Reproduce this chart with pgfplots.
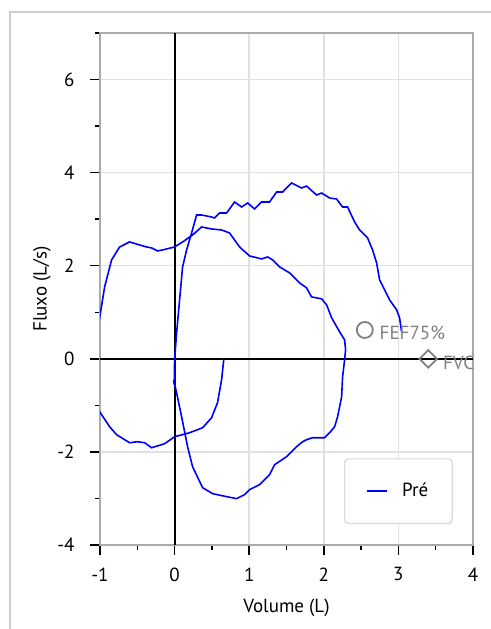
\documentclass[border=0pt]{standalone}
\usepackage{fontspec}
\setmainfont{PT Sans}
\usepackage{pgfplots}
\pgfplotsset{compat=1.18}
\definecolor{gridc}{RGB}{225,225,225}
\definecolor{axc}{RGB}{170,170,170}
\definecolor{framec}{RGB}{205,205,205}
\definecolor{legc}{RGB}{215,215,215}
\definecolor{markc}{RGB}{128,128,128}
\definecolor{lineblue}{RGB}{0,0,255}
\begin{document}
\fontsize{19bp}{22bp}\selectfont
\begin{tikzpicture}
\useasboundingbox (0bp,0bp) rectangle (491bp,629bp);
\draw[framec, line width=1.5bp] (10bp,0bp) -- (10bp,617bp) -- (491bp,617bp);
\begin{axis}[
  at={(100bp,84bp)}, anchor=south west,
  scale only axis, width=373bp, height=512bp,
  xmin=-1, xmax=4, ymin=-4, ymax=7,
  xtick={-1,0,1,2,3,4},
  minor xtick={-0.5,0.5,1.5,2.5,3.5},
  ytick={-4,-2,0,2,4,6},
  minor ytick={-3,-1,1,3,5,7},
  xtick pos=bottom, ytick pos=left,
  tick align=outside,
  major tick length=10bp, minor tick length=5bp,
  every tick/.style={black, line width=1.5bp},
  grid=major,
  major grid style={gridc, line width=1.5bp},
  axis line style={axc, line width=1.5bp},
  /pgf/number format/assume math mode=true,
  ticklabel style={font=\fontsize{19bp}{22bp}\selectfont},
  yticklabel style={xshift=-9bp},
  xticklabel style={yshift=-6bp},
  xlabel={Volume (L)}, ylabel={Fluxo (L/s)},
  label style={font=\fontsize{19bp}{22bp}\selectfont},
  xlabel style={at={(rel axis cs:0.5,0)}, anchor=center, yshift=-63bp},
  ylabel style={at={(rel axis cs:0,0.5)}, anchor=center, yshift=58bp},
  legend style={at={(0.946,0.041)}, anchor=south east, draw=legc, line width=1.2bp,
    rounded corners=4bp, inner xsep=22bp, inner ysep=22bp, column sep=12bp,
    font=\fontsize{19bp}{22bp}\selectfont},
  legend image code/.code={\draw[#1, line width=1.6bp] (0bp,0bp) -- (20bp,0bp);},
]
\addplot[black, line width=2bp, forget plot] coordinates {(0,-4) (0,7)};
\addplot[black, line width=1.6bp, forget plot] coordinates {(-1,0) (4,0)};
\addplot[lineblue, line width=1.6bp] coordinates {
(0.66,0.00) (0.63,-0.45) (0.575,-0.944) (0.496,-1.266) (0.375,-1.481) (0.201,-1.588)
(0.0,-1.674) (-0.134,-1.824) (-0.308,-1.910) (-0.402,-1.803) (-0.496,-1.781)
(-0.603,-1.803) (-0.777,-1.631) (-0.871,-1.459) (-1.005,-1.137) (-1.139,-0.815)
(-1.30,-0.5) (-1.30,0.3)
(-1.046,0.451) (-1.005,0.880) (-0.938,1.545) (-0.845,2.124) (-0.737,2.403)
(-0.603,2.511) (-0.469,2.446) (-0.375,2.403) (-0.308,2.382) (-0.228,2.318)
(-0.161,2.339) (0.0,2.403) (0.107,2.511) (0.241,2.661) (0.362,2.833) (0.496,2.790)
(0.630,2.768) (0.737,2.704) (0.871,2.403) (1.005,2.210) (1.166,2.146) (1.247,2.189)
(1.314,2.124) (1.408,1.974) (1.542,1.845) (1.676,1.631) (1.769,1.524) (1.836,1.330)
(1.971,1.288) (2.038,1.159) (2.105,0.880) (2.212,0.579) (2.279,0.408) (2.292,0.193)
(2.279,-0.021) (2.252,-0.386) (2.239,-0.815) (2.185,-1.245) (2.145,-1.459)
(2.078,-1.588) (2.011,-1.695) (1.850,-1.695) (1.769,-1.738) (1.716,-1.781)
(1.635,-1.888) (1.501,-2.103) (1.340,-2.275) (1.273,-2.489) (1.139,-2.704)
(1.005,-2.811) (0.938,-2.918) (0.831,-3.004) (0.697,-2.961) (0.509,-2.897)
(0.375,-2.768) (0.241,-2.318) (0.174,-1.888) (0.094,-1.245) (0.027,-0.730)
(-0.013,-0.451) (-0.005,-0.56) (0.0,-0.021) (0.027,0.558) (0.067,1.266) (0.107,1.974)
(0.161,2.339) (0.228,2.704) (0.295,3.090) (0.362,3.090) (0.496,3.047) (0.536,3.026)
(0.603,3.133) (0.697,3.133) (0.804,3.369) (0.898,3.262) (0.979,3.348) (1.072,3.219)
(1.166,3.369) (1.273,3.369) (1.367,3.584) (1.448,3.584) (1.568,3.777) (1.702,3.670)
(1.769,3.712) (1.903,3.519) (1.971,3.562) (2.078,3.455) (2.172,3.433) (2.252,3.262)
(2.319,3.262) (2.413,2.940) (2.480,2.768) (2.587,2.597) (2.654,2.339) (2.708,2.060)
(2.748,1.695) (2.815,1.481) (2.882,1.266) (2.976,1.052) (3.016,0.880) (3.043,0.579)
};
\addlegendentry{Pré}
\addplot[forget plot, only marks, mark=o, mark size=8bp, markc,
  mark options={line width=1.8bp},
  nodes near coords={FEF75\%},
  every node near coord/.append style={anchor=west, xshift=14bp, yshift=-3bp, markc,
    font=\fontsize{19bp}{22bp}\selectfont, inner sep=0pt}]
  coordinates {(2.55,0.62)};
\addplot[forget plot, only marks, mark=square, mark size=6.2bp, markc,
  mark options={line width=1.8bp, rotate=45, fill=white},
  nodes near coords={FVC},
  every node near coord/.append style={anchor=west, xshift=14bp, yshift=-4bp, markc,
    font=\fontsize{19bp}{22bp}\selectfont, inner sep=0pt}]
  coordinates {(3.40,0)};
\end{axis}
\end{tikzpicture}
\end{document}
